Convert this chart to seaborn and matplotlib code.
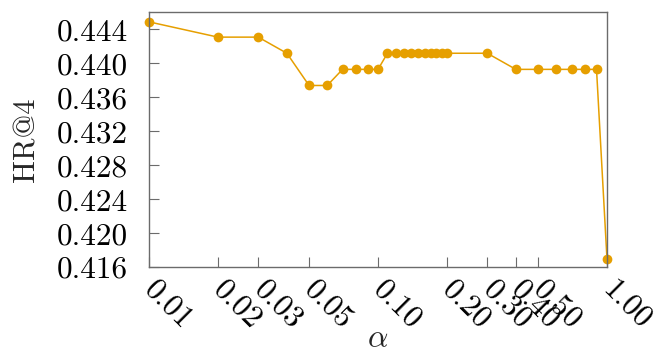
import matplotlib
matplotlib.use("Agg")
import matplotlib.pyplot as plt
import seaborn as sns
import pandas as pd
from matplotlib.ticker import FixedLocator, FixedFormatter, NullLocator

alpha = [0.01, 0.02, 0.03, 0.04, 0.05, 0.06, 0.07, 0.08, 0.09, 0.10,
         0.11, 0.12, 0.13, 0.14, 0.15, 0.16, 0.17, 0.18, 0.19, 0.20,
         0.30, 0.40, 0.50, 0.60, 0.70, 0.80, 0.90, 1.00]
hr4 = [0.4449, 0.4431, 0.4431, 0.4412, 0.4374, 0.4374, 0.4393, 0.4393, 0.4393, 0.4393,
       0.4412, 0.4412, 0.4412, 0.4412, 0.4412, 0.4412, 0.4412, 0.4412, 0.4412, 0.4412,
       0.4412, 0.4393, 0.4393, 0.4393, 0.4393, 0.4393, 0.4393, 0.4169]

xticks = [0.01, 0.02, 0.03, 0.05, 0.10, 0.20, 0.30, 0.40, 0.50, 1.00]
xtick_labels = ["0.01", "0.02", "0.03", "0.05", "0.10", "0.20", "0.30", "0.40", "0.50", "1.00"]
yticks = [0.416, 0.420, 0.424, 0.428, 0.432, 0.436, 0.440, 0.444]
ytick_labels = ["0.416", "0.420", "0.424", "0.428", "0.432", "0.436", "0.440", "0.444"]

sns.set_theme(style="ticks")
plt.rcParams["font.family"] = ["cmr10", "DejaVu Serif"]
plt.rcParams["mathtext.fontset"] = "cm"
plt.rcParams["axes.unicode_minus"] = False

color = "#E69F00"
frame = "#6b6b6b"

fig = plt.figure(figsize=(6.57, 3.53), dpi=100)
ax = fig.add_axes([0.2268, 0.2436, 0.6971, 0.7233])

df = pd.DataFrame({"alpha": alpha, "hr4": hr4})
sns.lineplot(data=df, x="alpha", y="hr4", ax=ax, color=color, linewidth=1.1,
             marker="o", markersize=7, markeredgewidth=0, clip_on=False)

ax.set_xscale("log")
ax.set_xlim(0.01, 1.0)
ax.set_ylim(0.416, 0.4461)

ax.xaxis.set_major_locator(FixedLocator(xticks))
ax.xaxis.set_major_formatter(FixedFormatter(xtick_labels))
ax.xaxis.set_minor_locator(NullLocator())
ax.yaxis.set_major_locator(FixedLocator(yticks))
ax.yaxis.set_major_formatter(FixedFormatter(ytick_labels))

for s in ax.spines.values():
    s.set_visible(True)
    s.set_color(frame)
    s.set_linewidth(1.0)

ax.tick_params(axis="both", direction="in", length=7, width=0.8, color=frame,
               labelsize=22.5, labelcolor="black")
ax.tick_params(axis="x", pad=13)
ax.tick_params(axis="y", pad=15)
for lbl in ax.get_xticklabels():
    lbl.set_rotation(-45)
    lbl.set_ha("left")
    lbl.set_va("center")
    lbl.set_rotation_mode("anchor")

ax.set_xlabel(r"$\alpha$", fontsize=23, labelpad=-6)
ax.set_ylabel("HR@4", fontsize=22, labelpad=12)

fig.savefig("out.png", dpi=100)
